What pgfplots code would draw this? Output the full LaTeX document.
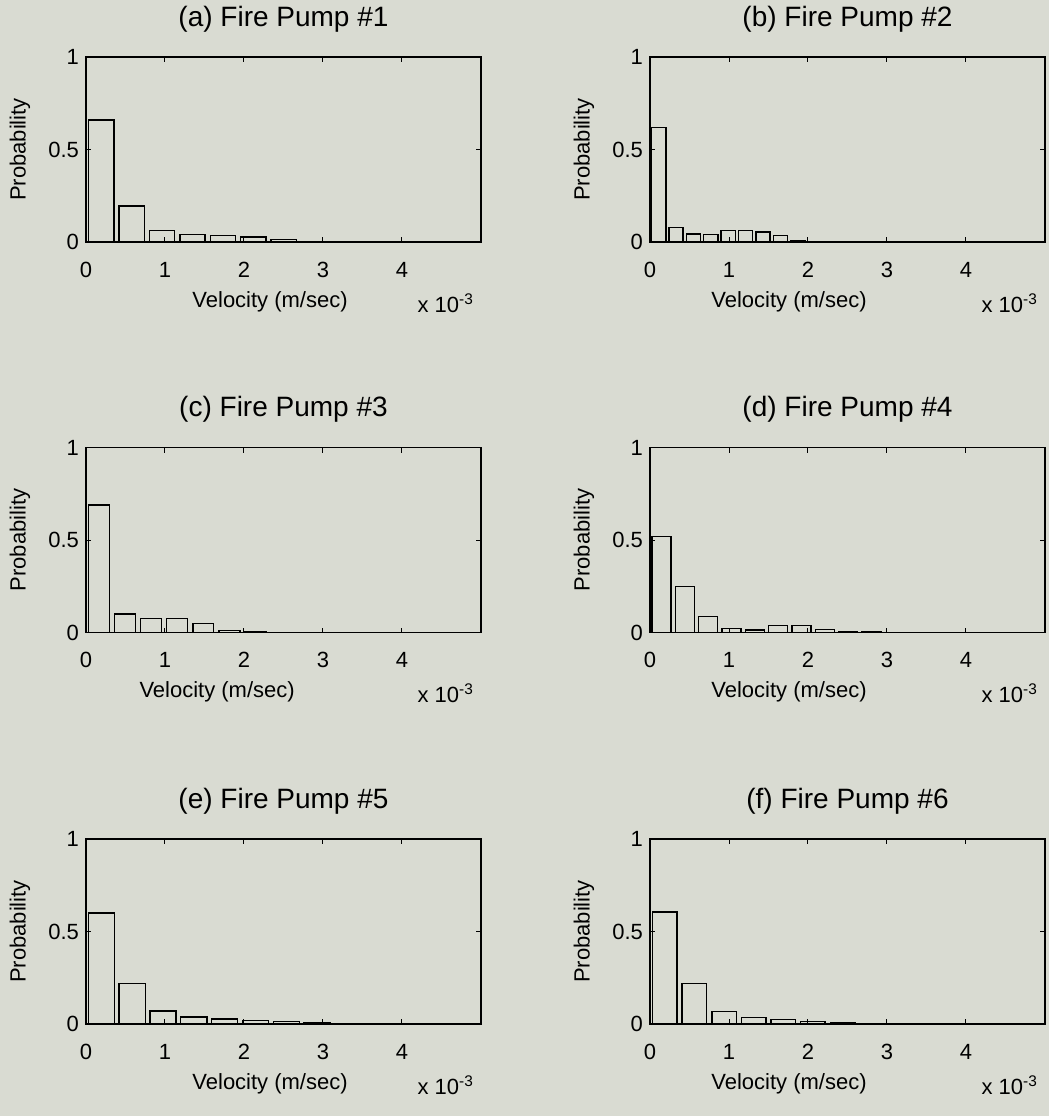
\documentclass[border=0pt]{standalone}
\usepackage{pgfplots}
\pgfplotsset{compat=1.18}
\usepackage{fontspec}
\setmainfont{Liberation Sans}
\definecolor{bgcol}{RGB}{217,219,210}
\pgfplotsset{
  fp/.style={
    scale only axis, width=197.5pt, height=92.5pt,
    xmin=0, xmax=5, ymin=0, ymax=1,
    xtick={0,1,2,3,4}, ytick={0,0.5,1}, yticklabels={0,0.5,1},
    tick align=inside, major tick length=2.5pt,
    axis line style={line width=0.65pt, black},
    tick style={line width=0.5pt, black},
    /pgf/number format/assume math mode=true,
    every tick label/.append style={font=\fontsize{11}{13}\selectfont},
    xticklabel style={anchor=base, yshift=-17.5pt},
    title style={font=\fontsize{14}{16}\selectfont, at={(0.5,1)}, anchor=base, yshift=9.5pt},
    ylabel=Probability,
    ylabel style={font=\fontsize{11}{13}\selectfont, at={(axis description cs:-0.167,0.5)}, anchor=center},
    clip=false,
  },
  bars/.style={ybar, draw=black, fill=none, line width=0.7pt},
}
\newcommand{\xlab}[1]{\node[anchor=base, font=\fontsize{11}{13}\selectfont, yshift=-32.5pt] at (axis description cs:#1,0) {Velocity (m/sec)};
  \node[anchor=base east, font=\fontsize{11}{13}\selectfont, yshift=-35pt] at (axis description cs:1,0) {x 10\textsuperscript{-3}};}
\begin{document}
\begin{tikzpicture}
\fill[bgcol] (0,0) rectangle (524.5pt,-558pt);
\useasboundingbox (0,0) rectangle (524.5pt,-558pt);
% (a)
\begin{axis}[fp, at={(43pt,-121pt)}, anchor=south west, title={(a) Fire Pump \#1}]
\addplot[bars, bar width=0.32] coordinates {(0.1925,0.66) (0.5775,0.195) (0.9625,0.063) (1.3475,0.042) (1.7325,0.036) (2.1175,0.027) (2.5025,0.012) (2.8875,0.003) (3.2725,0.001) (3.6575,0.001)};
\xlab{0.466}
\end{axis}
% (b)
\begin{axis}[fp, at={(325pt,-121pt)}, anchor=south west, title={(b) Fire Pump \#2}]
\addplot[bars, bar width=0.18] coordinates {(0.11,0.62) (0.33,0.077) (0.55,0.043) (0.77,0.042) (0.99,0.063) (1.21,0.063) (1.43,0.054) (1.65,0.034) (1.87,0.008) (2.09,0.003)};
\xlab{0.352}
\end{axis}
% (c)
\begin{axis}[fp, at={(43pt,-316.25pt)}, anchor=south west, title={(c) Fire Pump \#3}]
\addplot[bars, bar width=0.265] coordinates {(0.165,0.69) (0.495,0.099) (0.825,0.077) (1.155,0.077) (1.485,0.05) (1.815,0.01) (2.145,0.002) (2.475,0.001) (2.805,0.001) (3.135,0.001)};
\xlab{0.332}
\end{axis}
% (d)
\begin{axis}[fp, at={(325pt,-316.25pt)}, anchor=south west, title={(d) Fire Pump \#4}]
\addplot[bars, bar width=0.24] coordinates {(0.1475,0.52) (0.4425,0.25) (0.7375,0.087) (1.0325,0.022) (1.3275,0.013) (1.6225,0.038) (1.9175,0.038) (2.2125,0.016) (2.5075,0.005) (2.8025,0.002)};
\xlab{0.352}
\end{axis}
% (e)
\begin{axis}[fp, at={(43pt,-512pt)}, anchor=south west, title={(e) Fire Pump \#5}]
\addplot[bars, bar width=0.33] coordinates {(0.195,0.60) (0.585,0.22) (0.975,0.071) (1.365,0.037) (1.755,0.028) (2.145,0.019) (2.535,0.012) (2.925,0.006) (3.315,0.003) (3.705,0.001)};
\xlab{0.466}
\end{axis}
% (f)
\begin{axis}[fp, at={(325pt,-512pt)}, anchor=south west, title={(f) Fire Pump \#6}]
\addplot[bars, bar width=0.31] coordinates {(0.1875,0.605) (0.5625,0.22) (0.9375,0.067) (1.3125,0.035) (1.6875,0.025) (2.0625,0.014) (2.4375,0.005) (2.8125,0.002) (3.1875,0.001) (3.5625,0.001)};
\xlab{0.352}
\end{axis}
\end{tikzpicture}
\end{document}
